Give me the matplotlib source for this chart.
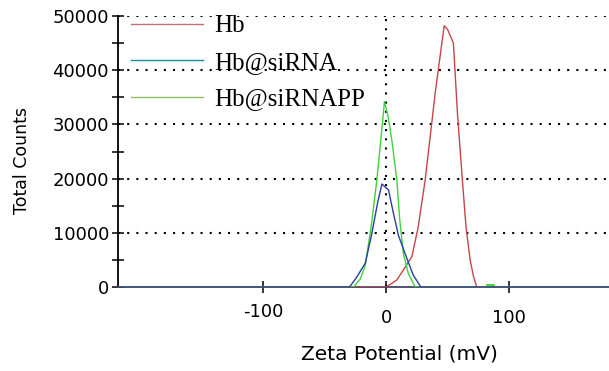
import matplotlib
matplotlib.use("Agg")
import matplotlib.pyplot as plt
from matplotlib.lines import Line2D
from matplotlib.transforms import ScaledTranslation

# Data
hb_x = [-218, -25, 0, 8.7, 15, 20.9, 26, 31.7, 40, 47.2, 50, 54.7, 58, 62, 65, 68.3, 71, 73.7, 185]
hb_y = [0, 0, 0, 1300, 3500, 5600, 11000, 19700, 36000, 48200, 47500, 45000, 32000, 19700, 11000, 5000, 2000, 0, 0]

sirna_x = [-218, -29.8, -24, -17, -12, -7, -3.5, 1.9, 6, 10, 16.8, 22, 28.2, 185]
sirna_y = [0, 0, 1800, 4400, 9500, 15500, 19000, 17900, 13500, 9500, 5300, 2200, 0, 0]

sirnapp_x = [-218, -26.5, -21, -17, -12, -7.6, -4, -1.4, 1.5, 4.6, 8.7, 11, 14, 18, 23.6, 185]
sirnapp_y = [0, 0, 1500, 4000, 11500, 19700, 28000, 34200, 31500, 27100, 19700, 12500, 6200, 2500, 0, 0]

labels = ["Hb", "Hb@siRNA", "Hb@siRNAPP"]
curve_colors = ["#c84646", "#2a3f9e", "#3ed23e"]
legend_colors = ["#c07078", "#1a8a96", "#8fbf5a"]

yticks = [0, 10000, 20000, 30000, 40000, 50000]
xticks = [-100, 0, 100]

fig = plt.figure(figsize=(6.09, 3.71), dpi=100)
ax = fig.add_axes([118/609, 1-287/371, 1-118/609, (287-16)/371])

dot = dict(color="black", linestyle=(0, (1, 3.4)), linewidth=1.5)
for yv in yticks[1:]:
    ax.axhline(yv, zorder=1, **dot)
ax.plot([0, 0], [0, 50000], zorder=1, **dot)

ax.plot(hb_x, hb_y, color=curve_colors[0], lw=1.0, zorder=3)
ax.plot(sirnapp_x, sirnapp_y, color=curve_colors[2], lw=1.0, zorder=3)
ax.plot(sirna_x, sirna_y, color=curve_colors[1], lw=1.0, zorder=4)
ax.plot([82, 87], [300, 300], color="#3ed23e", lw=2, zorder=3)

ax.set_xlim(-218.2, 181.3)
ax.set_ylim(0, 50000)
for s in ["top", "right"]:
    ax.spines[s].set_visible(False)
ax.spines["left"].set_linewidth(1.3)
ax.spines["bottom"].set_linewidth(1.3)
ax.spines["bottom"].set_color("#444466")

ax.set_yticks(yticks)
ax.set_yticks([5000, 15000, 25000, 35000, 45000], minor=True)
ax.set_xticks(xticks)
ax.set_xticklabels([str(v) for v in xticks])
ax.tick_params(axis="both", which="both", direction="inout", length=9, width=1.1, colors="black")
ax.tick_params(axis="y", which="major", pad=2)
ax.tick_params(axis="x", which="major", pad=11)
for lab in ax.get_yticklabels() + ax.get_xticklabels():
    lab.set_fontfamily("DejaVu Sans")
    lab.set_fontsize(13)
xl = ax.get_xticklabels()
xl[0].set_transform(xl[0].get_transform() + ScaledTranslation(0, 6/100, fig.dpi_scale_trans))

fig.text(22/609, 1-160/371, "Total Counts", rotation=90, ha="center", va="center",
         fontsize=12.5, family="DejaVu Sans")
fig.text(399/609, 1-354/371, "Zeta Potential (mV)", ha="center", va="center",
         fontsize=14.5, family="DejaVu Sans")

handles = [Line2D([], [], color=c, lw=1.0) for c in legend_colors]
leg = ax.legend(handles, labels, loc="upper left", bbox_to_anchor=(0.0, 1.05),
                frameon=False, prop={"family": "Liberation Serif", "size": 18},
                handlelength=2.9, handletextpad=0.45, labelspacing=0.56,
                borderaxespad=0.3, borderpad=0.2)

fig.savefig("out.png", dpi=100)
